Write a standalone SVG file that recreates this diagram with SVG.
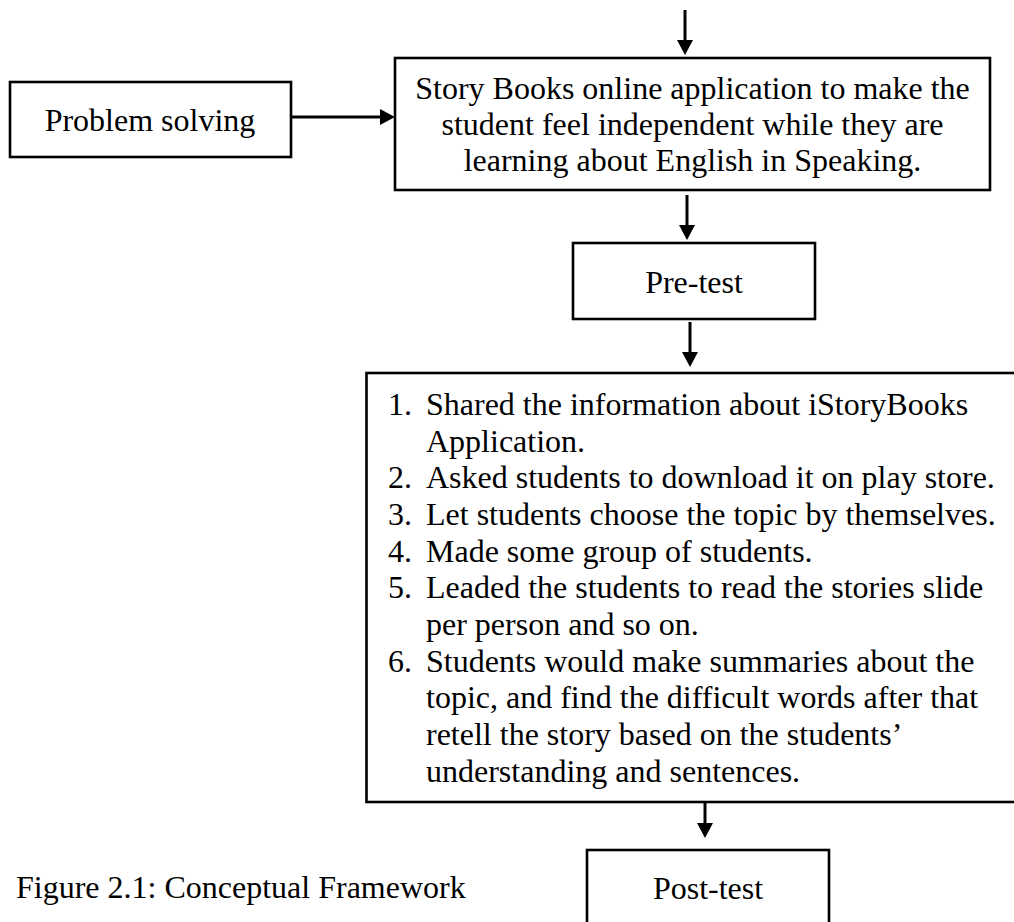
<svg xmlns="http://www.w3.org/2000/svg" width="1014" height="922" viewBox="0 0 1014 922">
<style>
.box{fill:#fff;stroke:#000;stroke-width:2.6}
.t{font-family:"Liberation Serif","Times New Roman",serif;font-size:32px;fill:#000}
.c{text-anchor:middle}
.con{stroke:#000;stroke-width:3;fill:none}
</style>
<defs>
<marker id="ah" markerUnits="userSpaceOnUse" markerWidth="16" markerHeight="16" refX="5" refY="8" orient="auto" viewBox="0 0 15 16">
<path d="M0,0 L15,8 L0,16 z" fill="#000"/>
</marker>
</defs>
<rect width="1014" height="922" fill="#fff"/>
<g id="connectors">
<line class="con" x1="685" y1="10" x2="685" y2="45" marker-end="url(#ah)"/>
<line class="con" x1="291" y1="117" x2="385" y2="117" stroke-width="3.6" marker-end="url(#ah)"/>
<line class="con" x1="687" y1="195" x2="687" y2="230" marker-end="url(#ah)"/>
<line class="con" x1="690" y1="322" x2="690" y2="357" marker-end="url(#ah)"/>
<line class="con" x1="705" y1="802" x2="705" y2="828" marker-end="url(#ah)"/>
</g>
<g id="problem">
<rect class="box" x="10" y="82" width="281" height="75"/>
<text class="t c" x="150" y="130.5">Problem solving</text>
</g>
<g id="storybooks">
<rect class="box" x="395" y="58" width="595" height="132"/>
<text class="t c" x="692.5" y="99">Story Books online application to make the</text>
<text class="t c" x="692.5" y="135">student feel independent while they are</text>
<text class="t c" x="692.5" y="171">learning about English in Speaking.</text>
</g>
<g id="pretest">
<rect class="box" x="573" y="243" width="242" height="76"/>
<text class="t c" x="694" y="292.5">Pre-test</text>
</g>
<g id="steps">
<rect class="box" x="366.5" y="373" width="660" height="429"/>
<text class="t" x="388" y="415">1.</text>
<text class="t" x="426" y="415">Shared the information about iStoryBooks</text>
<text class="t" x="426" y="451.7">Application.</text>
<text class="t" x="388" y="488.3">2.</text>
<text class="t" x="426" y="488.3">Asked students to download it on play store.</text>
<text class="t" x="388" y="525">3.</text>
<text class="t" x="426" y="525">Let students choose the topic by themselves.</text>
<text class="t" x="388" y="561.7">4.</text>
<text class="t" x="426" y="561.7">Made some group of students.</text>
<text class="t" x="388" y="598.3">5.</text>
<text class="t" x="426" y="598.3">Leaded the students to read the stories slide</text>
<text class="t" x="426" y="635">per person and so on.</text>
<text class="t" x="388" y="671.7">6.</text>
<text class="t" x="426" y="671.7">Students would make summaries about the</text>
<text class="t" x="426" y="708.3">topic, and find the difficult words after that</text>
<text class="t" x="426" y="745">retell the story based on the students’</text>
<text class="t" x="426" y="781.7">understanding and sentences.</text>
</g>
<g id="posttest">
<rect class="box" x="587" y="850" width="242" height="90"/>
<text class="t c" x="708" y="898.5">Post-test</text>
</g>
<g id="caption">
<text class="t" x="16" y="898">Figure 2.1: Conceptual Framework</text>
</g>
</svg>
